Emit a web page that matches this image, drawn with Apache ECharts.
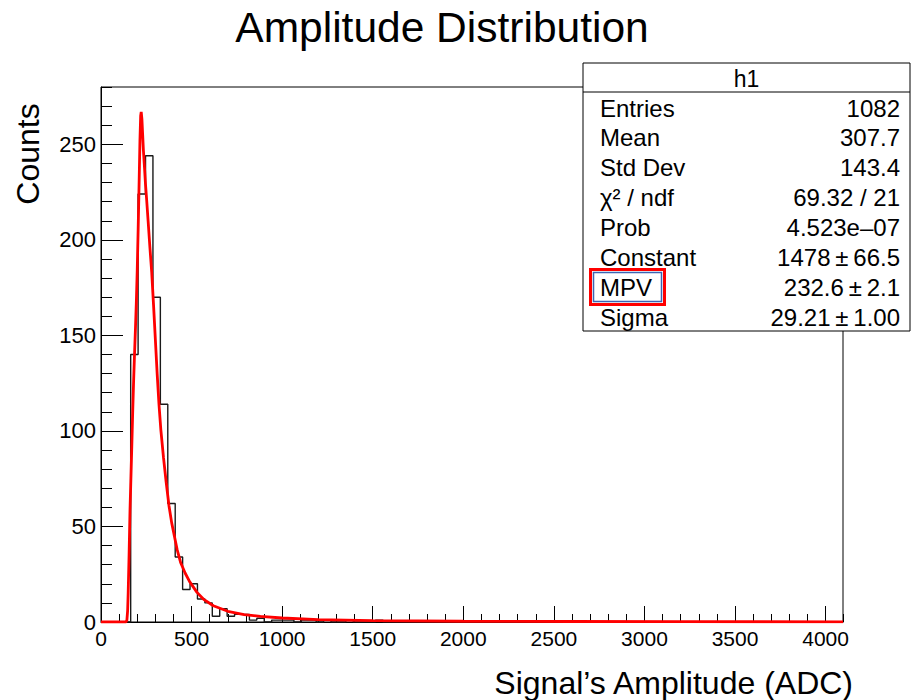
<!DOCTYPE html>
<html>
<head>
<meta charset="utf-8">
<script src="https://cdn.jsdelivr.net/npm/echarts@6/dist/echarts.min.js"></script>
<style>
html,body{margin:0;padding:0;background:#fff;}
#chart{width:912px;height:700px;}
</style>
</head>
<body>
<div id="chart"></div>
<script>
// ---- Histogram h1: 100 bins from 0 to 4096 ----
const xMin = 0;
const xMax = 4096;
const binCounts = [
  0, 0, 0, 0, 140, 224, 244, 170, 114, 62,
  34, 17, 20, 12, 10, 3, 7, 3, 4, 4,
  1, 2, 0, 1, 1, 1, 0, 1, 1, 0,
  1, 0, 0, 1, 0, 0, 0, 1, 0, 0,
  0, 0, 0, 0, 0, 0, 0, 0, 0, 0,
  0, 0, 0, 0, 0, 0, 0, 0, 0, 0,
  0, 0, 0, 0, 0, 0, 0, 0, 0, 0,
  0, 0, 0, 0, 0, 0, 0, 0, 0, 0,
  0, 0, 0, 0, 0, 0, 0, 0, 0, 0,
  0, 0, 0, 0, 0, 0, 0, 0, 0, 0
];

// ---- Landau fit curve ----
const fitX = [0, 100, 138, 143, 147, 150, 155, 160, 165, 170, 175, 180, 185, 190, 195, 200, 205, 210, 215, 219, 222, 226, 230, 234, 240, 245, 252, 260, 270, 280, 290, 300, 310, 320, 330, 345, 360, 375, 390, 405, 420, 440, 465, 490, 530, 565, 620, 700, 790, 880, 1000, 1200, 1500, 2000, 2600, 3200, 4096];
const fitY = [0, 0, 0, 1, 6, 15, 35, 58, 75, 92, 110, 126, 140, 153, 167, 184, 205, 228, 252, 265, 267, 263, 255, 247, 238, 230, 221, 210, 196, 183, 166, 148, 130, 114, 101, 86, 73, 61, 52, 45, 38, 31, 25.5, 21, 15.5, 12, 8.5, 5.6, 3.9, 2.9, 2.1, 1.2, 0.7, 0.4, 0.25, 0.15, 0.1];

// ---- Axis ticks ----
const yMax = 280;
const xMajor = 500, xMinor = 100;
const yMajor = 50, yMinor = 10;

// ---- Texts ----
const titleText = 'Amplitude Distribution';
const xTitle = 'Signal\u2019s Amplitude (ADC)';
const yTitle = 'Counts';
const statsName = 'h1';
const statLabels = ['Entries', 'Mean', 'Std Dev', '\u03c7\u00b2 / ndf', 'Prob', 'Constant', 'MPV', 'Sigma'];
const statValues = ['1082', '307.7', '143.4', '69.32 / 21', '4.523e\u201307', '1478\u2009\u00b1\u200966.5', '232.6\u2009\u00b1\u20092.1', '29.21\u2009\u00b1\u20091.00'];

// build step outline of histogram from bins
const nBins = binCounts.length;
const bw = (xMax - xMin) / nBins;
const histLine = [[xMin, 0]];
for (let i = 0; i < nBins; i++) {
  const lo = xMin + i * bw, hi = lo + bw;
  histLine.push([lo, binCounts[i]]);
  histLine.push([hi, binCounts[i]]);
}
const fitLine = fitX.map((x, i) => [x, fitY[i]]);

const FONT = '"Liberation Sans", Arial, Helvetica, sans-serif';
const chart = echarts.init(document.getElementById('chart'), null, {renderer: 'svg'});

// stats box graphics
const boxX = 583, boxY = 63, boxW = 327, boxH = 268, headH = 29, rowH = 29.9;
const statsEls = [
  {type: 'rect', shape: {x: boxX, y: boxY, width: boxW, height: boxH}, style: {fill: '#fff', stroke: '#000', lineWidth: 1}, z: 100},
  {type: 'line', shape: {x1: boxX, y1: boxY + headH, x2: boxX + boxW, y2: boxY + headH}, style: {stroke: '#000', lineWidth: 1}, z: 101},
  {type: 'text', x: boxX + boxW / 2, y: boxY + headH / 2 + 1, style: {text: statsName, font: '23px ' + FONT, fill: '#000', align: 'center', verticalAlign: 'middle'}, z: 102},
  {type: 'rect', shape: {x: 590.5, y: 269.5, width: 74, height: 35}, style: {fill: '#fff', stroke: '#ff0000', lineWidth: 3}, z: 101},
  {type: 'rect', shape: {x: 593.5, y: 272.5, width: 68, height: 29}, style: {fill: 'none', stroke: '#3b64b4', lineWidth: 1.5}, z: 101}
];
statLabels.forEach((lab, i) => {
  const y = boxY + headH + 16 + i * rowH;
  statsEls.push({type: 'text', x: 600, y: y, style: {text: lab, font: '24px ' + FONT, fill: '#000', align: 'left', verticalAlign: 'middle'}, z: 102});
  statsEls.push({type: 'text', x: 900, y: y, style: {text: statValues[i], font: '24px ' + FONT, fill: '#000', align: 'right', verticalAlign: 'middle'}, z: 102});
});

const plain = v => String(v);

const option = {
  animation: false,
  backgroundColor: '#fff',
  grid: {left: 101, right: 69, top: 87, bottom: 78, show: true, borderColor: '#000', borderWidth: 1, containLabel: false},
  xAxis: [
    {type: 'value', min: xMin, max: xMax, interval: xMajor, position: 'bottom',
     axisLine: {show: true, onZero: false, lineStyle: {color: '#000', width: 1}},
     axisTick: {show: true, inside: true, length: 16, lineStyle: {color: '#000', width: 1}},
     axisLabel: {show: true, color: '#000', fontSize: 21, fontFamily: FONT, margin: 6, showMaxLabel: false, formatter: plain},
     splitLine: {show: false}},
    {type: 'value', min: xMin, max: xMax, interval: xMinor, position: 'bottom',
     axisLine: {show: false, onZero: false},
     axisTick: {show: true, inside: true, length: 8, lineStyle: {color: '#000', width: 1}},
     axisLabel: {show: false}, splitLine: {show: false}}
  ],
  yAxis: [
    {type: 'value', min: 0, max: yMax, interval: yMajor, position: 'left',
     axisLine: {show: true, onZero: false, lineStyle: {color: '#000', width: 1}},
     axisTick: {show: true, inside: true, length: 22, lineStyle: {color: '#000', width: 1}},
     axisLabel: {show: true, color: '#000', fontSize: 22, fontFamily: FONT, margin: 5, showMaxLabel: false, formatter: plain},
     splitLine: {show: false}},
    {type: 'value', min: 0, max: yMax, interval: yMinor, position: 'left',
     axisLine: {show: false, onZero: false},
     axisTick: {show: true, inside: true, length: 11, lineStyle: {color: '#000', width: 1}},
     axisLabel: {show: false}, splitLine: {show: false}}
  ],
  series: [
    {name: 'h1', type: 'line', xAxisIndex: 0, yAxisIndex: 0, data: histLine, showSymbol: false, symbol: 'none',
     lineStyle: {color: '#1a1a1a', width: 1.4}, z: 3},
    {name: 'Landau fit', type: 'line', xAxisIndex: 0, yAxisIndex: 0, data: fitLine, showSymbol: false, symbol: 'none',
     lineStyle: {color: '#ff0000', width: 2.8}, z: 4}
  ],
  graphic: [
    {type: 'text', x: 442, y: 27, style: {text: titleText, font: '42.5px ' + FONT, fill: '#000', align: 'center', verticalAlign: 'middle'}, z: 100},
    {type: 'text', x: 853, y: 683, style: {text: xTitle, font: '32px ' + FONT, fill: '#000', align: 'right', verticalAlign: 'middle'}, z: 100},
    {type: 'text', x: 28, y: 154, rotation: Math.PI / 2, style: {text: yTitle, font: '32px ' + FONT, fill: '#000', align: 'center', verticalAlign: 'middle'}, z: 100}
  ].concat(statsEls)
};
chart.setOption(option);
</script>
</body>
</html>
